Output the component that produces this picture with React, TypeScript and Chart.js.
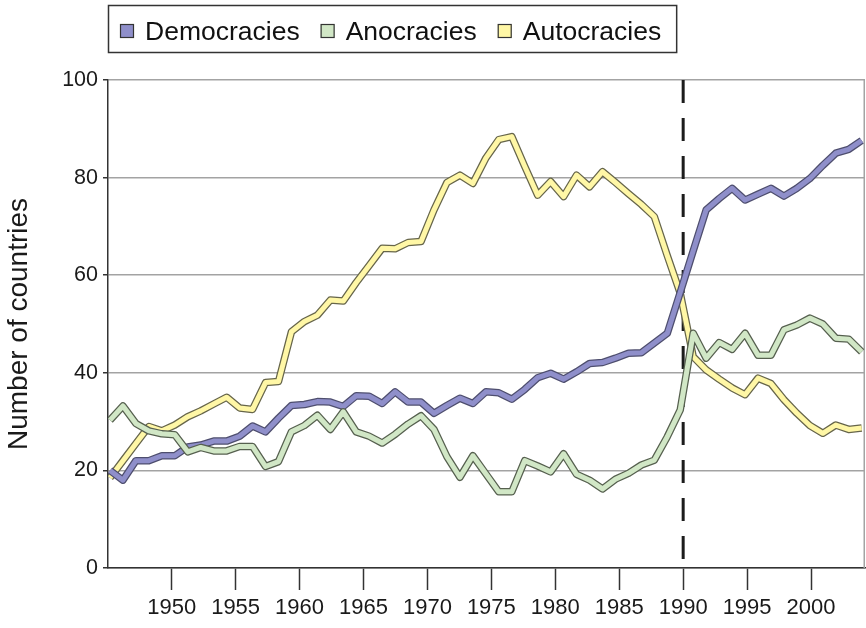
import React, { useEffect, useRef } from 'react';
import { Chart, registerables } from 'chart.js';

Chart.register(...registerables);

// ---- data ----
const YEARS = [
  1946, 1947, 1948, 1949, 1950, 1951, 1952, 1953, 1954, 1955,
  1956, 1957, 1958, 1959, 1960, 1961, 1962, 1963, 1964, 1965,
  1966, 1967, 1968, 1969, 1970, 1971, 1972, 1973, 1974, 1975,
  1976, 1977, 1978, 1979, 1980, 1981, 1982, 1983, 1984, 1985,
  1986, 1987, 1988, 1989, 1990, 1991, 1992, 1993, 1994, 1995,
  1996, 1997, 1998, 1999, 2000, 2001, 2002, 2003, 2004,
];

const DEMOCRACIES = [
  20, 18, 22, 22, 23, 23, 24.8, 25.2, 26, 26,
  27, 29.1, 27.9, 30.7, 33.3, 33.5, 34.1, 34, 33.1, 35.3,
  35.2, 33.7, 36.1, 34, 34, 31.7, 33.3, 34.8, 33.7, 36.1,
  35.9, 34.6, 36.6, 39, 39.9, 38.7, 40.2, 41.9, 42.1, 43,
  44, 44.1, 46.1, 48.1, 56.5, 65, 73.4, 75.7, 77.8, 75.4,
  76.6, 77.8, 76.2, 77.8, 79.8, 82.5, 85, 85.8, 87.6,
];

const ANOCRACIES = [
  30.3, 33.2, 29.6, 28.1, 27.5, 27.3, 23.8, 24.7, 24, 24,
  24.9, 24.9, 20.8, 21.8, 27.9, 29.2, 31.3, 28.4, 32, 27.9,
  27, 25.6, 27.4, 29.5, 31.2, 28.4, 22.8, 18.6, 23, 19.3,
  15.6, 15.6, 22, 20.9, 19.7, 23.4, 19.2, 18, 16.2, 18.2,
  19.4, 21.1, 22.1, 26.9, 32.4, 48.1, 43, 46.2, 44.8, 48.1,
  43.6, 43.6, 48.8, 49.8, 51.2, 50, 47.1, 46.9, 44.3,
];

const AUTOCRACIES = [
  18.5, 22, 25.5, 29, 28.1, 29.3, 31, 32.2, 33.6, 35,
  32.8, 32.5, 38, 38.2, 48.4, 50.5, 51.8, 54.9, 54.7, 58.5,
  62, 65.5, 65.4, 66.7, 66.9, 73.4, 79, 80.5, 78.8, 84,
  87.8, 88.4, 82.3, 76.4, 79.2, 76.1, 80.5, 78.1, 81.2, 79,
  76.7, 74.5, 72, 64, 56.3, 43.3, 40.6, 38.7, 36.9, 35.5,
  38.9, 37.8, 34.5, 31.7, 29.2, 27.6, 29.3, 28.4, 28.7,
];

const TICK_YEARS = [1950, 1955, 1960, 1965, 1970, 1975, 1980, 1985, 1990, 1995, 2000];
const MARKER_YEAR = [1990];
const Y_TICKS = [0, 20, 40, 60, 80, 100];

const LEGEND_ORDER = ['Democracies', 'Anocracies', 'Autocracies'];

// ---- styles ----
const FONT = '"Liberation Sans", Arial, Helvetica, sans-serif';
const COLORS: Record<string, { fill: string; edge: string }> = {
  Democracies: { fill: '#8f8fca', edge: '#4e4e6e' },
  Anocracies: { fill: '#d1e7c6', edge: '#56604f' },
  Autocracies: { fill: '#fff7a6', edge: '#66654a' },
};

const toPoints = (vals: number[]) => YEARS.map((yr, i) => ({ x: yr, y: vals[i] }));

function seriesPair(label: string, vals: number[]) {
  const c = COLORS[label];
  const common = {
    xAxisID: 'xd',
    yAxisID: 'y',
    data: toPoints(vals),
    pointRadius: 0,
    pointHoverRadius: 0,
    tension: 0,
    fill: false,
    borderJoinStyle: 'round' as const,
    borderCapStyle: 'butt' as const,
  };
  return [
    { ...common, label, borderColor: c.fill, borderWidth: 5 },
    { ...common, label: label + ' outline', borderColor: c.edge, borderWidth: 7.5 },
  ];
}

const framePlugin = {
  id: 'frameAndLegend',
  beforeDatasetsDraw(chart: any) {
    const { ctx, chartArea: a } = chart;
    ctx.save();
    ctx.strokeStyle = '#a3a3a3';
    ctx.lineWidth = 1.5;
    ctx.beginPath();
    ctx.moveTo(a.right - 0.75, a.top);
    ctx.lineTo(a.right - 0.75, a.bottom);
    ctx.stroke();
    ctx.restore();
  },
  afterDraw(chart: any) {
    const { ctx, chartArea: a } = chart;
    ctx.save();
    ctx.font = '26.5px ' + FONT;
    ctx.textBaseline = 'alphabetic';
    const box = 14;
    const boxTop = 24;
    const baseline = 40;
    const gap = 21;
    let x = a.left + 12;
    LEGEND_ORDER.forEach((label) => {
      ctx.fillStyle = COLORS[label].fill;
      ctx.fillRect(x, boxTop, box, box);
      ctx.strokeStyle = '#333';
      ctx.lineWidth = 1.2;
      ctx.strokeRect(x + 0.5, boxTop + 0.5, box - 1, box - 1);
      const tx = x + box + 11;
      ctx.fillStyle = '#111';
      ctx.fillText(label, tx, baseline);
      x = tx + ctx.measureText(label).width + gap;
    });
    const right = x - gap + 15;
    ctx.strokeStyle = '#333';
    ctx.lineWidth = 1.5;
    ctx.strokeRect(a.left + 0.5, 5.5, right - a.left, 47);
    ctx.restore();
  },
};

export default function App() {
  const ref = useRef<HTMLCanvasElement>(null);

  useEffect(() => {
    if (!ref.current) return;
    Chart.defaults.font.family = FONT;

    const datasets: any[] = [
      ...seriesPair('Anocracies', ANOCRACIES),
      ...seriesPair('Democracies', DEMOCRACIES),
      ...seriesPair('Autocracies', AUTOCRACIES),
      {
        label: '1990 marker',
        xAxisID: 'x',
        yAxisID: 'y',
        data: [
          { x: MARKER_YEAR[0], y: Y_TICKS[Y_TICKS.length - 1] },
          { x: MARKER_YEAR[0], y: Y_TICKS[0] },
        ],
        borderColor: '#1c1c1c',
        borderWidth: 3,
        borderDash: [23, 15],
        borderCapStyle: 'butt',
        pointRadius: 0,
        fill: false,
      },
    ];

    const chart = new Chart(ref.current, {
      type: 'line',
      data: { datasets },
      options: {
        animation: false,
        responsive: false,
        events: [],
        layout: { padding: { top: 80, right: 1, left: 0, bottom: 0 } },
        plugins: {
          legend: { display: false },
          tooltip: { enabled: false },
        },
        scales: {
          x: {
            type: 'linear',
            position: 'bottom',
            min: 1945.02,
            max: 2004.22,
            afterBuildTicks: (s: any) => {
              s.ticks = TICK_YEARS.map((v) => ({ value: v }));
            },
            afterFit: (s: any) => {
              s.height = 60;
            },
            ticks: {
              autoSkip: false,
              maxRotation: 0,
              padding: 5,
              color: '#1a1a1a',
              font: { size: 22, family: FONT },
              callback: (v: any) => String(v),
            },
            grid: {
              drawOnChartArea: false,
              drawTicks: true,
              tickLength: 22,
              tickColor: '#333',
              tickWidth: 1.5,
            },
            border: { color: '#333', width: 1.5 },
          },
          xd: {
            type: 'linear',
            display: false,
            min: 1945.846,
            max: 2004.255,
          },
          y: {
            min: Y_TICKS[0],
            max: Y_TICKS[Y_TICKS.length - 1],
            afterBuildTicks: (s: any) => {
              s.ticks = Y_TICKS.map((v) => ({ value: v }));
            },
            afterFit: (s: any) => {
              s.width = 108;
            },
            ticks: {
              padding: 5,
              color: '#1a1a1a',
              font: { size: 21.5, family: FONT },
            },
            grid: {
              color: '#a3a3a3',
              lineWidth: 1.5,
              tickLength: 5,
              tickColor: '#333',
            },
            border: { color: '#333', width: 1.5 },
            title: {
              display: true,
              text: 'Number of countries',
              color: '#1a1a1a',
              font: { size: 28, family: FONT },
              padding: { top: 2, bottom: 0 },
            },
          },
        },
      },
      plugins: [framePlugin],
    } as any);

    return () => chart.destroy();
  }, []);

  return (
    <div style={{ position: 'absolute', left: 0, top: 0, width: 866, height: 628, background: '#fff' }}>
      <canvas ref={ref} width={866} height={628} style={{ display: 'block' }} />
    </div>
  );
}
